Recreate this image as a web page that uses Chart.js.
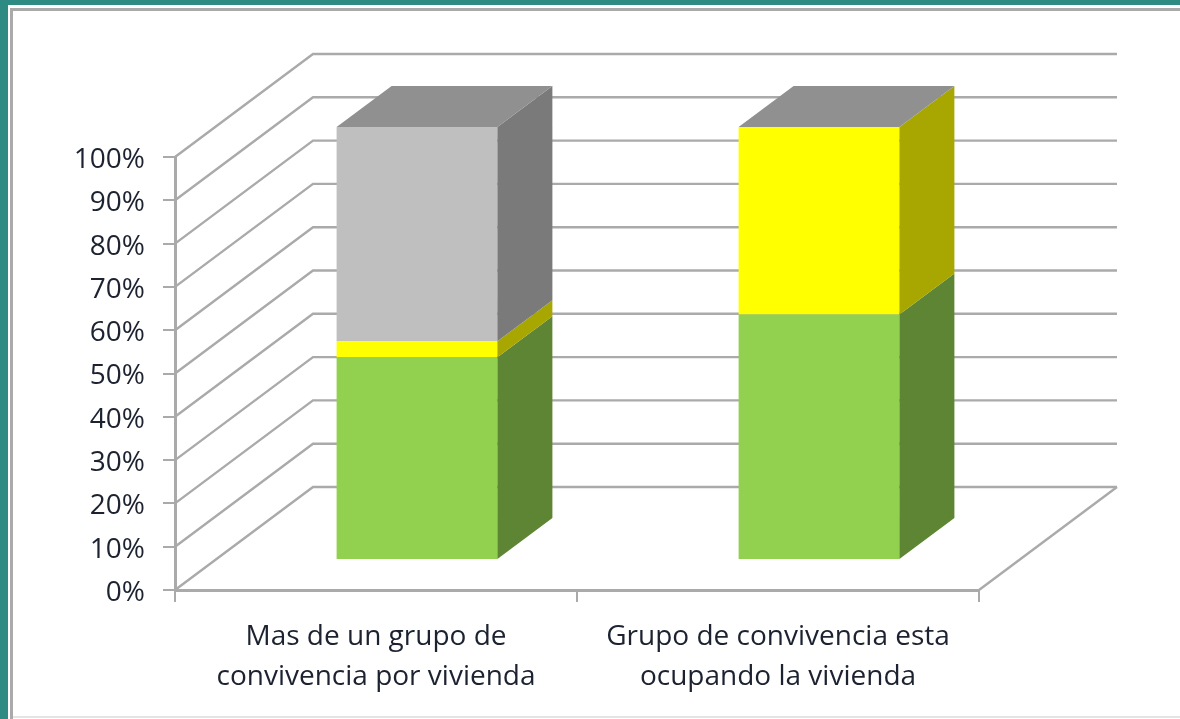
<!DOCTYPE html>
<html><head><meta charset="utf-8">
<script src="https://cdn.jsdelivr.net/npm/chart.js@4"></script>
<style>
html,body{margin:0;padding:0;background:#fff;width:1180px;height:719px;overflow:hidden}
.f{position:absolute}
#c{position:absolute;left:0;top:0;filter:blur(0.75px)}
</style></head><body>
<div class="f" style="left:0;top:0;width:1180px;height:5px;background:#2e8b84"></div>
<div class="f" style="left:0;top:0;width:8px;height:719px;background:#2e8b84"></div>
<div class="f" style="left:10px;top:8px;width:1170px;height:3px;background:#aaa"></div>
<div class="f" style="left:10px;top:8px;width:3px;height:711px;background:#aaa"></div>
<div class="f" style="left:13px;top:716px;width:1167px;height:2px;background:#e4e4e4"></div>
<canvas id="c" width="1180" height="719"></canvas>
<script>
const categories = [["Mas de un grupo de","convivencia por vivienda"],["Grupo de convivencia esta","ocupando la vivienda"]];
const greenValues = [46.8, 56.7];
const yellowValues = [3.7, 43.3];
const grayValues = [49.5, 0];
const frontColors = ["#92d050","#ffff00","#bfbfbf"];
const sideColors = ["#5e8533","#a8a600","#7a7a7a"];
const topColor = "#909090";
const lineColor = "#aaaaaa";
const textColor = "#1c2230";
const font = {family:"Open Sans", size:28};
const wallDepth = {x:138, y:-103};
const barOffset = {x:41, y:-30};
const barDepth = {x:55, y:-41};
const yLabelShift = 3;

const threeD = {
  id:"threeD",
  beforeDraw(chart){
    chart.scales.y.getLabelItems().forEach(i=>{ i.options.translation[1] += yLabelShift; });
  },
  beforeDatasetsDraw(chart){
    const {ctx, scales:{x,y}} = chart;
    const l = x.left, r = x.right, y0 = y.getPixelForValue(0);
    ctx.save();
    ctx.strokeStyle = lineColor; ctx.lineWidth = 2.4;
    y.ticks.forEach(t=>{
      const p = y.getPixelForValue(t.value);
      ctx.beginPath();
      ctx.moveTo(l,p);
      ctx.lineTo(l+wallDepth.x,p+wallDepth.y);
      ctx.lineTo(r+wallDepth.x,p+wallDepth.y);
      ctx.stroke();
    });
    ctx.beginPath();
    ctx.moveTo(r,y0);
    ctx.lineTo(r+wallDepth.x,y0+wallDepth.y);
    ctx.stroke();
    ctx.restore();
    ctx.save();
    ctx.translate(barOffset.x,barOffset.y);
  },
  afterDatasetsDraw(chart){
    const {ctx} = chart;
    ctx.restore();
    const dx = barDepth.x, dy = barDepth.y;
    const poly = (pts,col)=>{
      ctx.fillStyle = col;
      ctx.beginPath();
      pts.forEach((q,i)=>i?ctx.lineTo(q[0],q[1]):ctx.moveTo(q[0],q[1]));
      ctx.closePath(); ctx.fill();
    };
    chart.data.datasets.forEach((ds,i)=>{
      chart.getDatasetMeta(i).data.forEach(b=>{
        const xr = b.x+b.width/2+barOffset.x, xl = b.x-b.width/2+barOffset.x;
        const t = b.y+barOffset.y, u = b.base+barOffset.y;
        if(u-t>0) poly([[xr,u],[xr+dx,u+dy],[xr+dx,t+dy],[xr,t]],sideColors[i]);
        if(i===chart.data.datasets.length-1)
          poly([[xl,t],[xl+dx,t+dy],[xr+dx,t+dy],[xr,t]],topColor);
      });
    });
  }
};

new Chart(document.getElementById("c"),{
  type:"bar",
  data:{labels:categories,datasets:[
    {label:"Verde",data:greenValues,backgroundColor:frontColors[0]},
    {label:"Amarillo",data:yellowValues,backgroundColor:frontColors[1]},
    {label:"Gris",data:grayValues,backgroundColor:frontColors[2]}
  ]},
  options:{
    responsive:false,animation:false,
    layout:{padding:{left:0,top:157,right:201,bottom:0}},
    datasets:{bar:{barPercentage:1,categoryPercentage:0.4,clip:false}},
    plugins:{legend:{display:false},title:{display:false},tooltip:{enabled:false}},
    scales:{
      x:{stacked:true,
        afterFit(s){s.height=129;},
        border:{color:lineColor,width:3},
        grid:{offset:true,drawOnChartArea:false,drawTicks:true,tickLength:12,color:lineColor,lineWidth:2},
        ticks:{color:textColor,font:{...font,lineHeight:1.43},padding:15,maxRotation:0,autoSkip:false}},
      y:{stacked:true,min:0,max:100,
        afterFit(s){s.width=175;},
        border:{color:lineColor,width:3},
        grid:{drawOnChartArea:false,drawTicks:true,tickLength:12,color:lineColor,lineWidth:2},
        ticks:{stepSize:10,color:textColor,font:font,padding:18,callback:v=>v+"%"}}
    }
  },
  plugins:[threeD]
});
</script>
</body></html>
